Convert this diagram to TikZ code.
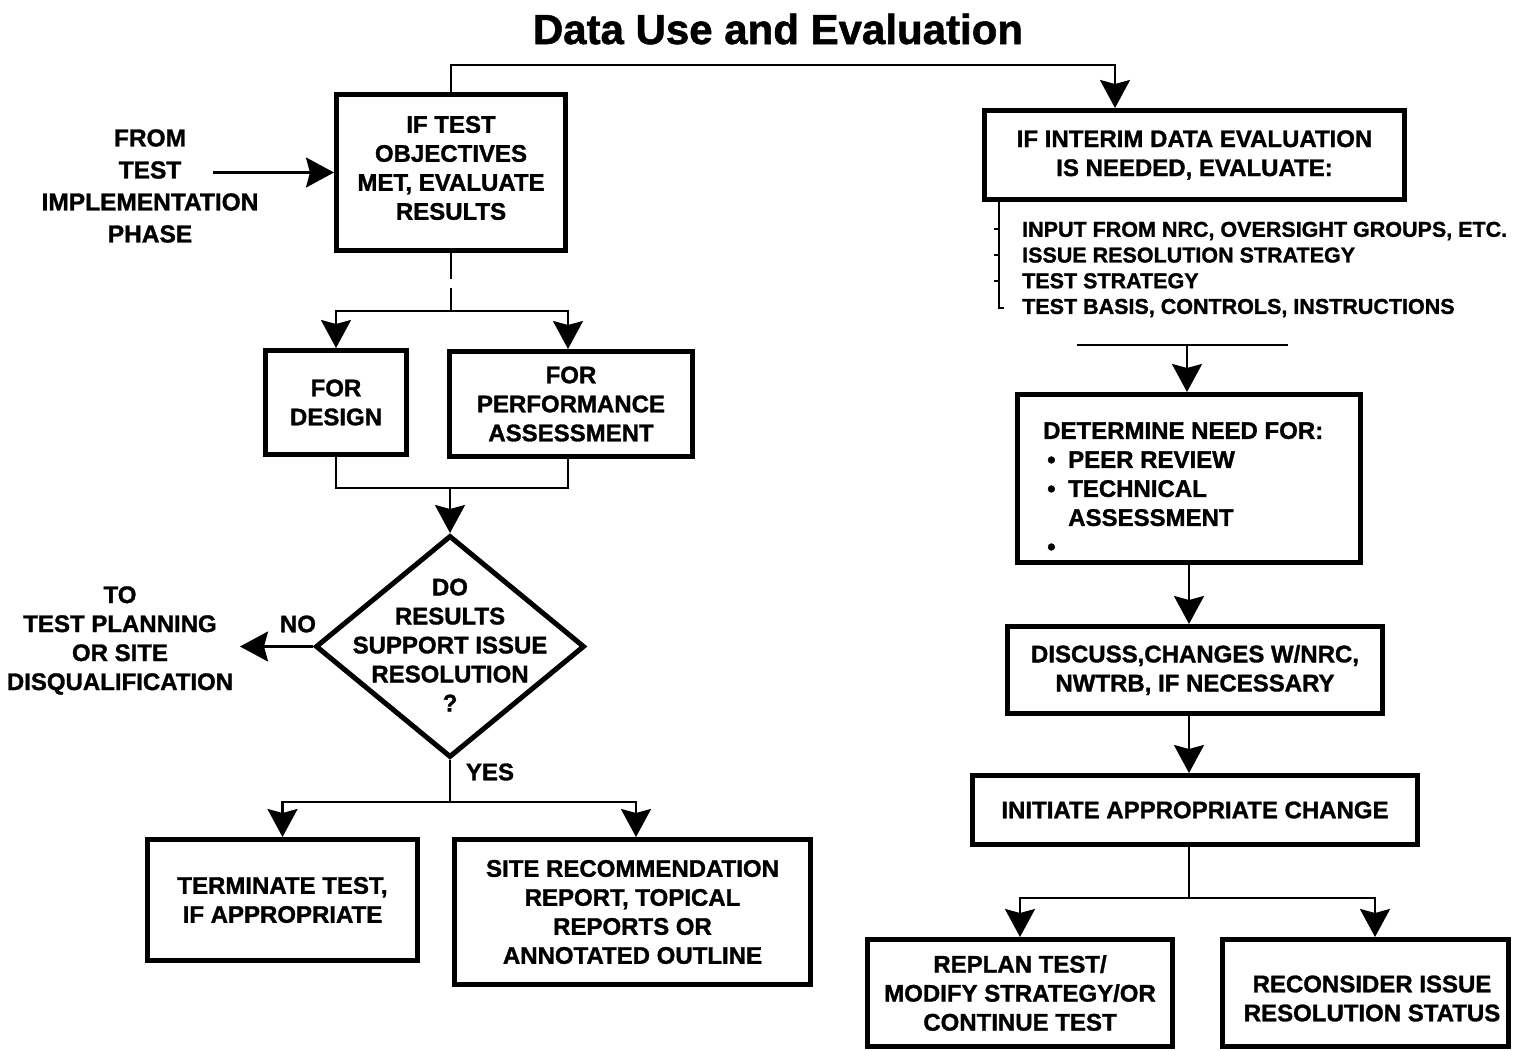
\documentclass[tikz,border=0pt]{standalone}
\usepackage{fontspec}
\setmainfont{Liberation Sans}[BoldFeatures={FakeBold=1.3}]
\usetikzlibrary{arrows.meta,shapes.geometric}
\begin{document}
\begin{tikzpicture}[x=1pt,y=-1pt,
  box/.style={draw,line width=5pt,inner sep=0pt,align=center,font=\fontsize{24}{29}\selectfont\bfseries},
  txt/.style={inner sep=0pt,align=center,font=\fontsize{24}{29}\selectfont\bfseries},
  listtxt/.style={inner sep=0pt,align=left,font=\fontsize{21.5}{25.7}\selectfont\bfseries},
  conn/.style={line width=2.5pt},
  arr/.style={conn,-{Stealth[length=28pt,width=30pt,inset=4pt]}},
  tick/.style={line width=2.2pt},
]
\useasboundingbox (0,0) rectangle (1520,1051);

% title
\node[inner sep=0pt,font=\fontsize{42}{50}\selectfont\bfseries] (title) at (778,29) {Data Use and Evaluation};

% left column
\node[box,minimum width=229pt,minimum height=156pt] (A) at (451,172.5) {};
\node[txt] (At) at (451,168) {IF TEST\\OBJECTIVES\\MET, EVALUATE\\RESULTS};
\node[txt,font=\fontsize{24.5}{32}\selectfont\bfseries] (from) at (150,186) {FROM\\TEST\\IMPLEMENTATION\\PHASE};
\node[box,minimum width=141pt,minimum height=104pt] (B) at (336,402.5) {FOR\\DESIGN};
\node[box,minimum width=243pt,minimum height=105pt] (C) at (571,404) {FOR\\PERFORMANCE\\ASSESSMENT};
\node[draw,diamond,line width=5pt,inner sep=0pt,minimum width=269pt,minimum height=222pt] (Q) at (450,646.5) {};
\node[txt] (Qt) at (450,645) {DO\\RESULTS\\SUPPORT ISSUE\\RESOLUTION\\?};
\node[txt] (no) at (298,624) {NO};
\node[txt] (to) at (120,640.5) {TO\\TEST PLANNING\\OR SITE\\DISQUALIFICATION};
\node[txt] (yes) at (490,772) {YES};
\node[box,minimum width=270pt,minimum height=121pt] (D) at (282.5,900) {TERMINATE TEST,\\IF APPROPRIATE};
\node[box,minimum width=356pt,minimum height=145pt] (E) at (632.5,912) {SITE RECOMMENDATION\\REPORT, TOPICAL\\REPORTS OR\\ANNOTATED OUTLINE};

% right column
\node[box,minimum width=420pt,minimum height=89pt] (F) at (1194.5,155) {IF INTERIM DATA EVALUATION\\IS NEEDED, EVALUATE:};
\node[listtxt,anchor=west] (L) at (1022,269.5) {INPUT FROM NRC, OVERSIGHT GROUPS, ETC.\\ISSUE RESOLUTION STRATEGY\\TEST STRATEGY\\TEST BASIS, CONTROLS, INSTRUCTIONS};
\node[box,minimum width=343pt,minimum height=168pt] (G) at (1189,478.5) {};
\node[txt,align=left,anchor=west] (Gt) at (1043,488.5) {DETERMINE NEED FOR:\\\makebox[25pt][l]{\,\textbullet}PEER REVIEW\\\makebox[25pt][l]{\,\textbullet}TECHNICAL\\\hspace*{25pt}ASSESSMENT\\\makebox[25pt][l]{\,\textbullet}};
\node[box,minimum width=375pt,minimum height=87pt] (H) at (1195,670) {DISCUSS,CHANGES W/NRC,\\NWTRB, IF NECESSARY};
\node[box,minimum width=445pt,minimum height=69pt] (I) at (1195,810) {INITIATE APPROPRIATE CHANGE};
\node[box,minimum width=305pt,minimum height=107pt] (J) at (1020,993) {REPLAN TEST/\\MODIFY STRATEGY/OR\\CONTINUE TEST};
\node[box,minimum width=286pt,minimum height=107pt] (K) at (1365.5,993) {};
\node[txt] (Kt) at (1372,998.5) {RECONSIDER ISSUE\\RESOLUTION STATUS};

% coordinates
\coordinate (t1) at (451,65);
\coordinate (t2) at (1115,65);
\coordinate (fs) at (213,172.5);
\coordinate (j1) at (451,311);
\coordinate (c1) at (568,311);
\coordinate (m1) at (450,488);
\coordinate (noend) at (240,646.5);
\coordinate (y1) at (450,802);
\coordinate (y2) at (636,802);
\coordinate (bx) at (999,0);
\coordinate (bend) at (999,308);
\coordinate (u1) at (1077,345);
\coordinate (u2) at (1288,345);
\coordinate (g0) at (1187,345);
\coordinate (r1) at (1189,898);
\coordinate (r2) at (1375,898);

% connectors left
\draw[arr] (A.north) -- (t1) -- (t2) -- (t2 |- F.north);
\draw[arr] (fs) -- (A.west);
\draw[conn,dash pattern=on 26pt off 9pt] (A.south) -- (j1);
\draw[arr] (j1) -| (B.north);
\draw[arr] (j1) -- (c1) -- (c1 |- C.north);
\draw[conn] (B.south) |- (m1);
\draw[conn] (c1 |- C.south) |- (m1);
\draw[arr] (m1) -- (Q.north);
\draw[arr] (Q.west) -- (noend);
\draw[conn] (Q.south) -- (y1);
\draw[arr] (y1) -| (D.north);
\draw[arr] (y1) -- (y2) -- (y2 |- E.north);

% connectors right
\draw[tick] (bx |- F.south) -- (bend) -- ++(5,0);
\foreach \yy in {229,255,281} \draw[tick] (999,\yy) -- ++(-5,0);
\draw[conn] (u1) -- (u2);
\draw[arr] (g0) -- (g0 |- G.north);
\draw[arr] (G.south) -- (G.south |- H.north);
\draw[arr] (H.south -| G.south) -- (G.south |- I.north);
\draw[conn] (I.south -| r1) -- (r1);
\draw[arr] (r1) -| (J.north);
\draw[arr] (r1) -- (r2) -- (r2 |- K.north);
\end{tikzpicture}
\end{document}
